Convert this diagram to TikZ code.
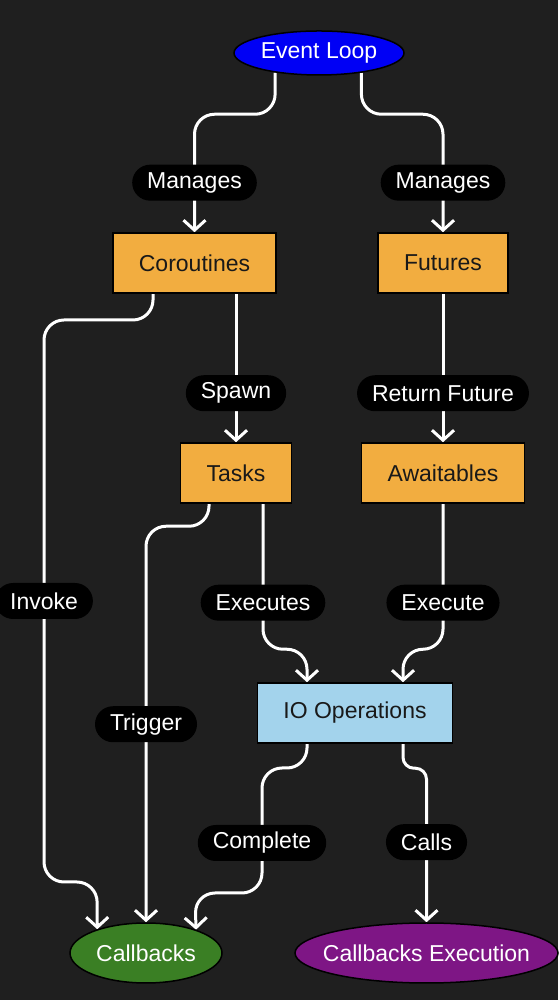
\documentclass[tikz,border=0pt]{standalone}
\usepackage{fontspec}
\setmainfont{Liberation Sans}
\usetikzlibrary{shapes.geometric, arrows.meta, backgrounds}

\definecolor{bgdark}{HTML}{1F1F1F}
\definecolor{boxorange}{HTML}{F2AD40}
\definecolor{ioblue}{HTML}{A3D3EC}
\definecolor{loopblue}{HTML}{0000F5}
\definecolor{cbgreen}{HTML}{3A7F24}
\definecolor{execpurple}{HTML}{7E1685}

\begin{document}
\begin{tikzpicture}[x=1pt, y=1pt,
    box/.style={draw=black, line width=1.5pt, fill=boxorange, text=black!90,
      minimum height=60pt, inner xsep=26pt, font=\fsz},
    oval/.style={ellipse, draw=black, line width=1.5pt, text=white, inner sep=0pt, font=\fsz},
    lbl/.style={fill=black, text=white, rounded corners=18pt, minimum height=36pt,
      inner xsep=15pt, inner ysep=0pt, font=\fsz},
    flow/.style={draw=white, line width=3pt, rounded corners=20pt,
      -{Straight Barb[length=10pt,width=22pt]}}]
  % asyncio event loop, flow
    \def\fsz{\fontsize{23}{27}\selectfont}
    \useasboundingbox (0,0) rectangle (558,1000);

    \node[oval, fill=loopblue, minimum width=170pt, minimum height=44pt] (ev) at (319,947) {Event Loop};
    \node[box] (cr) at (194.5,737) {Coroutines};
    \node[box] (fu) at (443,737) {Futures};
    \node[box] (ta) at (236,527) {Tasks};
    \node[box] (aw) at (443,527) {Awaitables};
    \node[box, fill=ioblue] (io) at (355,287) {IO Operations};
    \node[oval, fill=cbgreen, minimum width=152pt, minimum height=60pt] (cb) at (146,47) {Callbacks};
    \node[oval, fill=execpurple, inner xsep=-12pt, minimum width=263pt, minimum height=60pt] (ce) at (426.5,47) {Callbacks Execution};

  \begin{scope}[on background layer]
    \fill[bgdark] (0,0) rectangle (558,1000);

    \draw[flow] (ev.204.5) |- ([yshift=118pt]cr.north) -- node[lbl, pos=.58]{Manages} (cr.north);
    \draw[flow] (ev.335.5) |- ([yshift=118pt]fu.north) -- node[lbl, pos=.58]{Manages} (fu.north);

    \draw[flow] (cr.south -| ta.north) -- node[lbl, pos=.67]{Spawn} (ta.north);
    \draw[flow] (fu.south) -- node[lbl, pos=.67]{Return Future} (aw.north);

    \draw[flow] ([xshift=-41.5pt]cr.south) |- (44,680) |- node[lbl, pos=.25]{Invoke} (97,118) -- (cb.154.9);
    \draw[flow] ([xshift=-27pt]ta.south) |- ([yshift=396pt]cb.north) -- node[lbl, pos=.5]{Trigger} (cb.north);

    \draw[flow] ([xshift=27pt]ta.south) |- node[lbl, pos=.34]{Executes} ([xshift=-48pt, yshift=33pt]io.north) -- ([xshift=-48pt]io.north);
    \draw[flow] (aw.south) |- node[lbl, pos=.34]{Execute} ([xshift=48pt, yshift=33pt]io.north) -- ([xshift=48pt]io.north);

    \draw[flow] ([xshift=-48pt]io.south) |- (262,232) |- node[lbl, pos=.3]{Complete} (195,107) -- (cb.25.1);
    \draw[flow, rounded corners=11pt] ([xshift=48pt]io.south) |- ([yshift=154pt]ce.north) -- node[lbl, pos=.48]{Calls} (ce.north);
  \end{scope}
\end{tikzpicture}
\end{document}
